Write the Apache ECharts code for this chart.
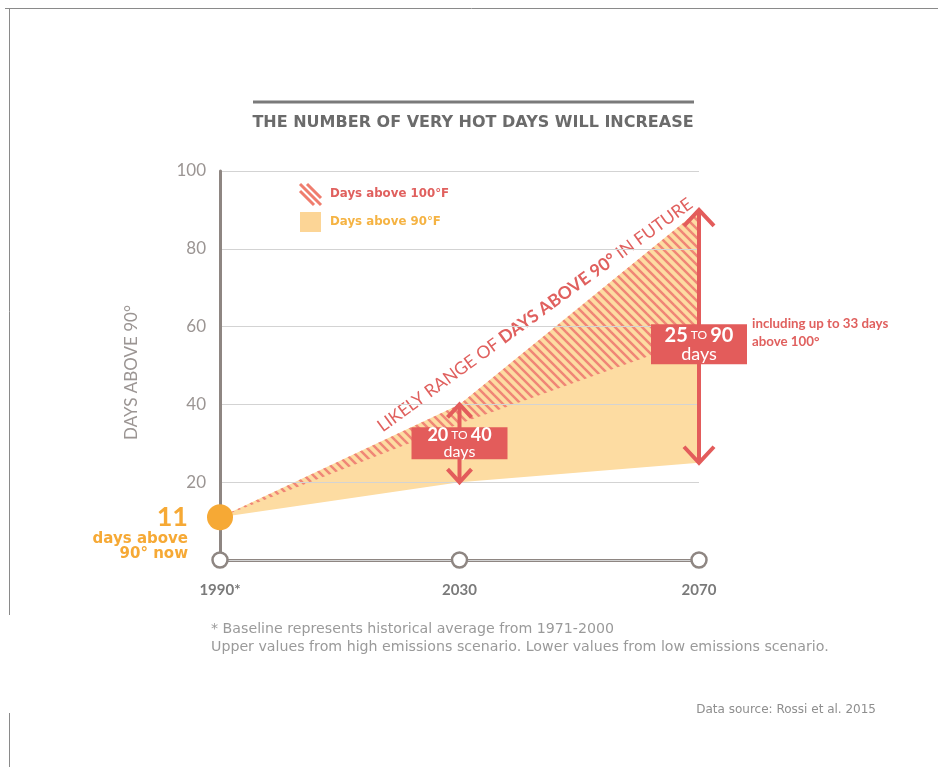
<!DOCTYPE html>
<html>
<head>
<meta charset="utf-8">
<title>The number of very hot days will increase</title>
<script src="https://cdn.jsdelivr.net/npm/echarts@6/dist/echarts.min.js"></script>
<style>
html, body { margin: 0; padding: 0; background: #fff; }
#main { width: 938px; height: 767px; }
</style>
</head>
<body>
<div id="main"></div>
<script>
// 数据
var years = ['1990*', '2030', '2070'];
var highDays = [11, 40, 90];   // 高排放情景：每年高于 90°F 的天数
var lowDays = [11, 20, 25];    // 低排放情景
var above100 = [0, 5, 33];     // 其中高于 100°F 的天数（上限）
var yTicks = [20, 40, 60, 80, 100];

var FONT = 'Lato, "Open Sans", sans-serif';
var WIDE = '"DejaVu Sans", Verdana, sans-serif';
var RED = '#e35c5b';
var PINK = '#e0605e';
var ORANGE = '#f6a935';
var FILL = '#fddca2';

// 斜线填充
function makeHatch() {
    var s = 9;
    var c = document.createElement('canvas');
    c.width = s;
    c.height = s;
    var ctx = c.getContext('2d');
    ctx.strokeStyle = '#f08676';
    ctx.lineWidth = 2.5;
    for (var k = -1; k <= 1; k++) {
        ctx.beginPath();
        ctx.moveTo(k * s - 1, -1);
        ctx.lineTo(k * s + s + 1, s + 1);
        ctx.stroke();
    }
    return c;
}

var bandSize = highDays.map(function (v, i) { return v - lowDays[i]; });
var hotFloor = highDays.map(function (v, i) { return v - above100[i]; });
var ranges = [];
for (var i = 1; i < years.length; i++) {
    ranges.push([i, lowDays[i], highDays[i]]);
}

// 画箭头和标签框
function renderRange(params, api) {
    var idx = params.dataIndex;
    var x = api.value(0);
    var lo = api.value(1), hi = api.value(2);
    var top = api.coord([x, hi]);
    var bot = api.coord([x, lo]);
    var mid = api.coord([x, (lo + hi) / 2]);
    var big = idx === 1;
    var w = big ? 15 : 12, h = big ? 16 : 13;
    var boxW = 96, boxH = big ? 40 : 32;
    var cx = top[0];
    var cy = mid[1] + (big ? 8 : 0);
    var bs = big ? 20 : 18, ds = big ? 18 : 16;
    return {
        type: 'group',
        children: [
            { type: 'line', shape: { x1: cx, y1: top[1] + 2, x2: cx, y2: bot[1] - 2 }, style: { stroke: RED, lineWidth: 4 } },
            { type: 'polyline', shape: { points: [[cx - w, top[1] + h], [cx, top[1]], [cx + w, top[1] + h]] }, style: { stroke: RED, lineWidth: 4, fill: null } },
            { type: 'polyline', shape: { points: [[cx - w, bot[1] - h], [cx, bot[1]], [cx + w, bot[1] - h]] }, style: { stroke: RED, lineWidth: 4, fill: null } },
            { type: 'rect', shape: { x: cx - boxW / 2, y: cy - boxH / 2, width: boxW, height: boxH }, style: { fill: RED } },
            {
                type: 'text', x: cx, y: cy,
                style: {
                    text: '{b|' + lo + '}{s| TO }{b|' + hi + '}\n{d|days}',
                    align: 'center', verticalAlign: 'middle',
                    rich: {
                        b: { fontFamily: FONT, fontWeight: 'bold', fontSize: bs, fill: '#fff', lineHeight: bs },
                        s: { fontFamily: FONT, fontSize: 12, fill: '#fff', lineHeight: bs },
                        d: { fontFamily: FONT, fontSize: ds, fill: '#fff', lineHeight: ds, align: 'center' }
                    }
                }
            }
        ]
    };
}

var chart = echarts.init(document.getElementById('main'));

var option = {
    backgroundColor: '#fff',
    animation: false,
    title: {
        text: 'THE NUMBER OF VERY HOT DAYS WILL INCREASE',
        left: 468,
        top: 110,
        textAlign: 'center',
        textStyle: { fontFamily: WIDE, fontWeight: 'bold', fontSize: 16, color: '#6b6b6b' }
    },
    grid: { left: 220, right: 239, top: 171, bottom: 207 },
    xAxis: {
        type: 'category',
        data: years,
        boundaryGap: false,
        axisLine: { lineStyle: { color: '#8e8682', width: 3 } },
        axisTick: { show: false },
        axisLabel: { margin: 23, fontFamily: FONT, fontWeight: 'bold', fontSize: 15, color: '#7a7a7a' },
        splitLine: { show: false }
    },
    yAxis: {
        type: 'value',
        min: 0,
        max: 100,
        interval: 20,
        z: 2,
        name: 'DAYS ABOVE 90°',
        nameLocation: 'middle',
        nameRotate: 90,
        nameGap: 80,
        nameTextStyle: { fontFamily: FONT, fontSize: 17, color: '#9b9593', padding: [0, 14, 0, 0] },
        axisLine: { show: true, lineStyle: { color: '#8e8682', width: 3 } },
        axisTick: { show: false },
        axisLabel: {
            margin: 14, fontFamily: FONT, fontSize: 17, color: '#9b9593',
            formatter: function (v) { return yTicks.indexOf(v) >= 0 ? String(v) : ''; }
        },
        splitLine: { lineStyle: { color: '#d3d3d3', width: 1.2 } }
    },
    series: [
        {
            name: 'low', type: 'line', stack: 'range', data: lowDays,
            symbol: 'none', lineStyle: { width: 0 }, z: 1, silent: true
        },
        {
            name: 'Days above 90°F', type: 'line', stack: 'range', data: bandSize,
            symbol: 'none', lineStyle: { width: 0 }, z: 1, silent: true,
            areaStyle: { color: FILL, opacity: 1 }
        },
        {
            name: 'floor', type: 'line', stack: 'hot', data: hotFloor,
            symbol: 'none', lineStyle: { width: 0 }, z: 1, silent: true
        },
        {
            name: 'Days above 100°F', type: 'line', stack: 'hot', data: above100,
            symbol: 'none', lineStyle: { width: 0 }, z: 1, silent: true,
            areaStyle: { color: { image: makeHatch(), repeat: 'repeat' }, opacity: 1 }
        },
        {
            type: 'scatter', data: years.map(function (y, i) { return [i, 0]; }),
            symbolSize: 15, clip: false, z: 5,
            itemStyle: { color: '#fff', borderColor: '#8e8682', borderWidth: 2.5, opacity: 1 }
        },
        {
            type: 'scatter', data: [[0, highDays[0]]],
            symbolSize: 26, clip: false, z: 6,
            itemStyle: { color: ORANGE, opacity: 1 },
            label: {
                show: true, position: 'left', distance: 19, offset: [0, 15],
                formatter: '{n|' + highDays[0] + '}\n{t|days above}\n{t|90° now}',
                align: 'right',
                rich: {
                    n: { fontFamily: FONT, fontWeight: 'bold', fontSize: 27, color: ORANGE, lineHeight: 28, align: 'right' },
                    t: { fontFamily: WIDE, fontWeight: 'bold', fontSize: 15, color: ORANGE, lineHeight: 15, align: 'right' }
                }
            }
        },
        {
            type: 'custom', data: ranges, renderItem: renderRange, z: 4, clip: false
        }
    ],
    graphic: [
        // 扫描边框
        { type: 'line', shape: { x1: 5, y1: 8.5, x2: 938, y2: 8.5 }, style: { stroke: '#8a8a8a', lineWidth: 1 } },
        { type: 'line', shape: { x1: 9.5, y1: 8, x2: 9.5, y2: 615 }, style: { stroke: '#8a8a8a', lineWidth: 1 } },
        { type: 'line', shape: { x1: 9.5, y1: 713, x2: 9.5, y2: 767 }, style: { stroke: '#8a8a8a', lineWidth: 1 } },
        // 标题上的横线
        { type: 'line', shape: { x1: 253, y1: 102, x2: 694, y2: 102 }, style: { stroke: '#7a7a7a', lineWidth: 3 } },
        // 图例
        {
            type: 'group', children: [
                { type: 'line', shape: { x1: 300, y1: 191, x2: 314, y2: 205 }, style: { stroke: '#ef7d6e', lineWidth: 3 } },
                { type: 'line', shape: { x1: 300, y1: 184, x2: 321, y2: 205 }, style: { stroke: '#ef7d6e', lineWidth: 3 } },
                { type: 'line', shape: { x1: 307, y1: 184, x2: 321, y2: 198 }, style: { stroke: '#ef7d6e', lineWidth: 3 } }
            ]
        },
        { type: 'text', x: 330, y: 194, style: { text: 'Days above 100°F', font: 'bold 11.8px ' + WIDE, fill: PINK, verticalAlign: 'middle' } },
        { type: 'rect', shape: { x: 300, y: 212, width: 21, height: 20 }, style: { fill: '#fcd596' } },
        { type: 'text', x: 330, y: 222, style: { text: 'Days above 90°F', font: 'bold 11.8px ' + WIDE, fill: '#f5b343', verticalAlign: 'middle' } },
        // 斜向说明
        {
            type: 'text', x: 535, y: 315, rotation: 36 * Math.PI / 180,
            style: {
                text: '{n|LIKELY RANGE OF }{b|DAYS ABOVE 90°}{n| IN FUTURE}',
                align: 'center', verticalAlign: 'middle',
                rich: {
                    n: { fontFamily: FONT, fontSize: 17.5, fill: PINK },
                    b: { fontFamily: FONT, fontSize: 17.5, fontWeight: 'bold', fill: PINK }
                }
            }
        },
        { type: 'text', x: 542, y: 434, style: { text: 'including up to 5 days\nabove 100°', font: 'bold 13.3px ' + FONT, fill: PINK, verticalAlign: 'middle', lineHeight: 17 } },
        { type: 'text', x: 752, y: 333, style: { text: 'including up to 33 days\nabove 100°', font: 'bold 13.3px ' + FONT, fill: PINK, verticalAlign: 'middle', lineHeight: 18 } },
        // 脚注
        { type: 'text', x: 211, y: 629, style: { text: '* Baseline represents historical average from 1971-2000', font: '14.2px ' + WIDE, fill: '#9a9a9a', verticalAlign: 'middle' } },
        { type: 'text', x: 211, y: 647, style: { text: 'Upper values from high emissions scenario. Lower values from low emissions scenario.', font: '14.2px ' + WIDE, fill: '#9a9a9a', verticalAlign: 'middle' } },
        { type: 'text', x: 876, y: 710, style: { text: 'Data source: Rossi et al. 2015', font: '12px ' + WIDE, fill: '#8e8e8e', align: 'right', verticalAlign: 'middle' } }
    ]
};

chart.setOption(option);
</script>
</body>
</html>
